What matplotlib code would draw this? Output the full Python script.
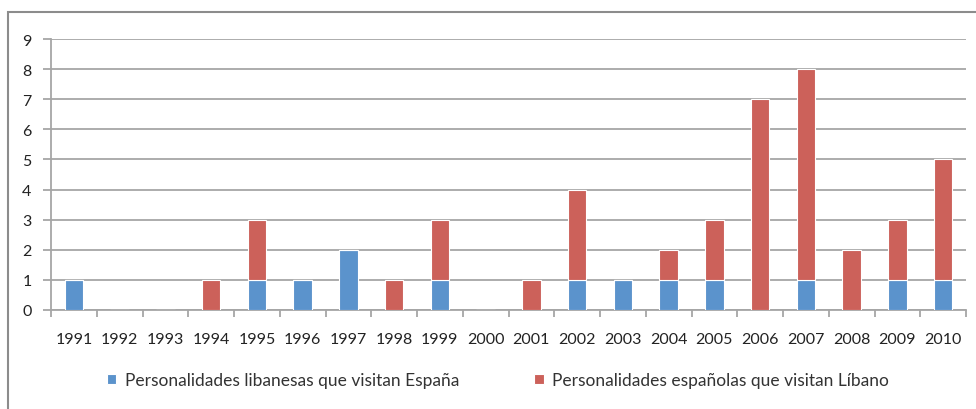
import numpy as np
import matplotlib.pyplot as plt
from matplotlib.patches import Rectangle

years = [str(y) for y in range(1991, 2011)]
libaneses = [1, 0, 0, 0, 1, 1, 2, 0, 1, 0, 0, 1, 1, 1, 1, 0, 1, 0, 1, 1]
espanoles = [0, 0, 0, 1, 2, 0, 0, 1, 2, 0, 1, 3, 0, 1, 2, 7, 7, 2, 2, 4]

label_lib = "Personalidades libanesas que visitan España"
label_esp = "Personalidades españolas que visitan Líbano"

blue = "#5b93cc"
red = "#cc615a"
grid_col = "#a6a6a6"

plt.rcParams["font.family"] = ["Lato", "DejaVu Sans"]

fig = plt.figure(figsize=(9.76, 4.10), dpi=100)
ax = fig.add_axes([51 / 976, 1 - 311 / 410, (966 - 51) / 976, (311 - 40) / 410])

# outer chart frame (runs off the right and bottom edges)
fig.patches.append(Rectangle((8 / 976, -0.2), 1.2, 1 - 13 / 410 + 0.2,
                             transform=fig.transFigure, fill=False,
                             edgecolor="#8c8c8c", linewidth=1.5))

x = np.arange(len(years))
ax.bar(x, libaneses, width=0.4, color=blue, edgecolor="white", linewidth=0.8,
       label=label_lib, zorder=3)
ax.bar(x, espanoles, width=0.4, bottom=libaneses, color=red, edgecolor="white",
       linewidth=0.8, label=label_esp, zorder=3)

ax.set_xlim(-0.5, len(years) - 0.5)
ax.set_ylim(0, 9)
ax.set_yticks(range(10))
ax.yaxis.grid(True, color=grid_col, linewidth=1.3, zorder=0)

ax.set_xticks(x)
ax.set_xticklabels(years)
ax.set_xticks(np.arange(-0.5, len(years)), minor=True)
ax.tick_params(axis="x", which="major", length=0, pad=16, labelsize=11.5,
               labelcolor="#222222")
ax.tick_params(axis="x", which="minor", length=5, width=1.3, color=grid_col)
ax.tick_params(axis="y", length=6, width=1.3, color=grid_col, labelsize=11.5,
               labelcolor="#222222", pad=8)

for side in ["top", "right"]:
    ax.spines[side].set_visible(False)
for side in ["left", "bottom"]:
    ax.spines[side].set_color(grid_col)
    ax.spines[side].set_linewidth(1.3)

leg = fig.legend(loc="center", bbox_to_anchor=(498 / 976, 1 - 381 / 410), ncol=2,
                 frameon=False, fontsize=12.5, handlelength=0.55, handleheight=0.55,
                 columnspacing=4.3, handletextpad=0.5)
for t in leg.get_texts():
    t.set_color("#333333")

fig.savefig("out.png", dpi=100)
